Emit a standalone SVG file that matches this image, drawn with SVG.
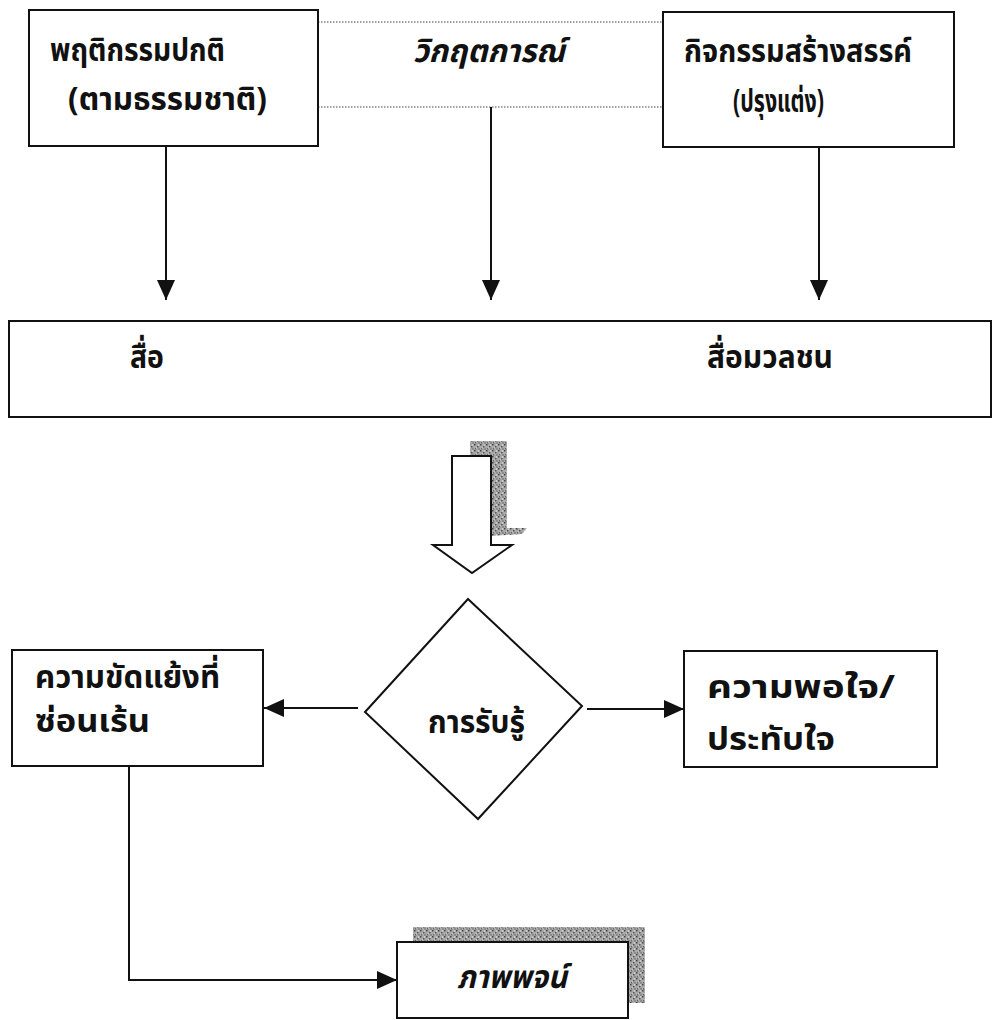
<svg xmlns="http://www.w3.org/2000/svg" width="994" height="1020" viewBox="0 0 994 1020">
<style>
.box{fill:#fff;stroke:#111;stroke-width:2}
.ln{fill:none;stroke:#111;stroke-width:2}
.dot{fill:none;stroke:#444;stroke-width:1;stroke-dasharray:1.5 1.5}
.t{font-family:"Noto Sans Thai","Noto Sans","DejaVu Sans",sans-serif;font-weight:bold;font-size:32px;fill:#111}
.it{font-style:italic}
</style>
<defs>
<marker id="ah" markerUnits="userSpaceOnUse" markerWidth="20" markerHeight="18" refX="20" refY="9" orient="auto">
<path d="M0,0 L20,9 L0,18 z" fill="#111"/>
</marker>
<pattern id="stip" width="6" height="6" patternUnits="userSpaceOnUse">
<rect width="6" height="6" fill="#aaa"/>
<rect x="0" y="0" width="1.5" height="1.5" fill="#444"/>
<rect x="3" y="2" width="1.5" height="1.5" fill="#555"/>
<rect x="1" y="4" width="1.5" height="1.5" fill="#666"/>
<rect x="4.5" y="4.5" width="1" height="1" fill="#333"/>
<rect x="4" y="0.5" width="1" height="1" fill="#eee"/>
<rect x="2" y="3.5" width="1" height="1" fill="#ddd"/>
</pattern>
</defs>

<g id="connectors">
<line class="dot" x1="318" y1="22" x2="663" y2="22"/>
<line class="dot" x1="318" y1="107" x2="663" y2="107"/>
<line class="ln" x1="166" y1="146" x2="166" y2="300" marker-end="url(#ah)"/>
<line class="ln" x1="491" y1="107" x2="491" y2="300" marker-end="url(#ah)"/>
<line class="ln" x1="819" y1="147" x2="819" y2="300" marker-end="url(#ah)"/>
<line class="ln" x1="358" y1="708" x2="264" y2="708" marker-end="url(#ah)"/>
<line class="ln" x1="587" y1="709" x2="684" y2="709" marker-end="url(#ah)"/>
<path class="ln" d="M129,766 V980 H397" marker-end="url(#ah)"/>
</g>

<g id="node-normal">
<rect class="box" x="29" y="10" width="289" height="136"/>
<text class="t" x="50" y="61" textLength="175" lengthAdjust="spacingAndGlyphs">พฤติกรรมปกติ</text>
<text class="t" x="68" y="110" textLength="199" lengthAdjust="spacingAndGlyphs">(ตามธรรมชาติ)</text>
</g>

<g id="node-crisis">
<text class="t it" x="413" y="62" textLength="152" lengthAdjust="spacingAndGlyphs">วิกฤตการณ์</text>
</g>

<g id="node-creative">
<rect class="box" x="663" y="12" width="291" height="135"/>
<text class="t" x="684" y="62" textLength="228" lengthAdjust="spacingAndGlyphs">กิจกรรมสร้างสรรค์</text>
<text class="t" x="733" y="112" textLength="91" lengthAdjust="spacingAndGlyphs">(ปรุงแต่ง)</text>
</g>

<g id="node-media">
<rect class="box" x="9" y="321" width="982" height="96"/>
<text class="t" x="130" y="368" textLength="34" lengthAdjust="spacingAndGlyphs">สื่อ</text>
<text class="t" x="707" y="368" textLength="126" lengthAdjust="spacingAndGlyphs">สื่อมวลชน</text>
</g>

<g id="node-bigarrow">
<polygon points="470,441 507,441 507,528 527,528 522,534 491,536 491,456 470,456" fill="url(#stip)"/>
<polygon points="452,456 491,456 491,545 512,545 472,573 433,545 452,545" fill="#fff" stroke="#111" stroke-width="2" stroke-linejoin="miter"/>
</g>

<g id="node-perception">
<polygon class="box" points="468,599 582,706 478,819 365,712"/>
<text class="t" x="428" y="733" textLength="97" lengthAdjust="spacingAndGlyphs">การรับรู้</text>
</g>

<g id="node-conflict">
<rect class="box" x="12" y="650" width="251" height="116"/>
<text class="t" x="35" y="688" textLength="185" lengthAdjust="spacingAndGlyphs">ความขัดแย้งที่</text>
<text class="t" x="35" y="732" textLength="115" lengthAdjust="spacingAndGlyphs">ซ่อนเร้น</text>
</g>

<g id="node-satisfaction">
<rect class="box" x="684" y="651" width="253" height="116"/>
<text class="t" x="707" y="698" textLength="188" lengthAdjust="spacingAndGlyphs">ความพอใจ/</text>
<text class="t" x="707" y="750" textLength="128" lengthAdjust="spacingAndGlyphs">ประทับใจ</text>
</g>

<g id="node-image">
<rect x="413" y="927" width="232" height="76" fill="url(#stip)"/>
<rect class="box" x="397" y="942" width="231" height="76"/>
<text class="t it" x="457" y="988" textLength="110" lengthAdjust="spacingAndGlyphs">ภาพพจน์</text>
</g>
</svg>
